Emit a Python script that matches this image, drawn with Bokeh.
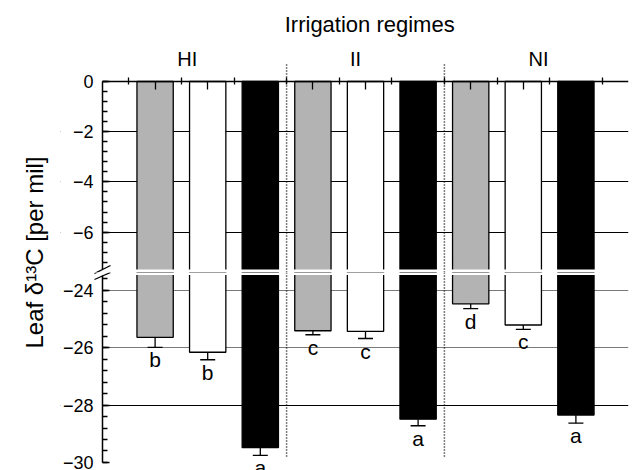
from bokeh.plotting import figure
from bokeh.layouts import row, column
from bokeh.models import (Range1d, FixedTicker, SingleIntervalTicker, Label, LabelSet,
                          Whisker, TeeHead, Arrow, ColumnDataSource, Grid, BoxAnnotation,
                          CustomJSTickFormatter, LinearAxis)
from bokeh.core.properties import value
from bokeh.embed import file_html
from bokeh.resources import INLINE

# ---------------- data ----------------
regimes = ["HI", "II", "NI"]
treatments = ["T1", "T2", "T3"]          # grey, white, black bars
hi_mean = [-25.64, -26.16, -29.48]
ii_mean = [-25.41, -25.43, -28.49]
ni_mean = [-24.47, -25.21, -28.35]
hi_se = [0.35, 0.26, 0.27]
ii_se = [0.14, 0.25, 0.23]
ni_se = [0.17, 0.15, 0.28]
hi_letters = ["b", "b", "a"]
ii_letters = ["c", "c", "a"]
ni_letters = ["d", "c", "a"]

# ---------------- layout / styling ----------------
FONT = "Liberation Sans"
COLORS = ["#b3b3b3", "#ffffff", "#000000"]
LEFT_W = 60               # width of the y-title strip
PLOT_W = 634 - LEFT_W
TOP_H = 272               # upper panel height (canvas rows 0..272)
BOT_H = 470 - TOP_H
PX_X = 52.6               # px per category unit
X_LO = -(102 - LEFT_W) / PX_X
# upper segment (0 at row 81, 25.1 px per unit)
TOP_RANGE = (-7.61, 3.227)
TOP_AX = (-7.49, 0)
# lower segment (28.65 px per unit)
BOT_RANGE = (-30.28, -23.38)
BOT_AX = (-30, -23.47)
REGIME_LABEL_X = [1.61, 4.81, 8.29]
TITLE_X = 5.08

means = [hi_mean, ii_mean, ni_mean]
ses = [hi_se, ii_se, ni_se]
letters = [hi_letters, ii_letters, ni_letters]

xs, ms, lows, lets, cols = [], [], [], [], []
for g in range(len(regimes)):
    for t in range(len(treatments)):
        xs.append(g * len(treatments) + t + 1)
        ms.append(means[g][t])
        lows.append(means[g][t] - ses[g][t])
        lets.append(letters[g][t])
        cols.append(COLORS[t])
src = ColumnDataSource(dict(x=xs, mean=ms, low=lows, letter=lets, color=cols))

n_pos = len(xs) + 1
dividers = [g * len(treatments) + 0.5 for g in range(1, len(regimes))]

minus_fmt = CustomJSTickFormatter(code="return (tick < 0 ? '\u2212' : '') + Math.abs(tick);")


def base_fig(h, yr):
    p = figure(width=PLOT_W, height=h, x_range=Range1d(X_LO, n_pos),
               y_range=Range1d(*yr), x_axis_location=None, y_axis_location="left",
               toolbar_location=None, output_backend="svg",
               min_border_top=0, min_border_bottom=0, min_border_left=0,
               min_border_right=6)
    p.outline_line_color = None
    p.xgrid.visible = False
    p.background_fill_color = "white"
    return p


def style_left_axis(ax, bounds):
    ax.fixed_location = 0
    ax.ticker = SingleIntervalTicker(interval=2, num_minor_ticks=5)
    ax.formatter = minus_fmt
    ax.bounds = bounds
    ax.axis_line_width = 1.5
    ax.axis_line_color = "black"
    ax.major_tick_in = 7
    ax.major_tick_out = 0
    ax.minor_tick_in = 5
    ax.minor_tick_out = 0
    ax.major_tick_line_width = 1.3
    ax.minor_tick_line_width = 1.3
    ax.major_label_text_font = FONT
    ax.major_label_text_font_size = "18px"
    ax.major_label_text_color = "black"
    ax.major_label_standoff = 9


def finish(p):
    # hide grid lines left of the value axis
    p.add_layout(BoxAnnotation(right=0, fill_color="white", fill_alpha=1,
                               line_color=None, level="underlay"))
    p.vbar(x="x", width=0.69, top=0, bottom="mean", source=src,
           fill_color="color", line_color="black", line_width=1.3)


def break_marks(p, y_at):
    ax_px = 102 - LEFT_W
    for ya, yb in [(273, 265), (279, 272)]:
        p.add_layout(Arrow(end=None, start_units="screen", end_units="screen",
                           x_start=ax_px - 8, y_start=y_at(ya),
                           x_end=ax_px + 8, y_end=y_at(yb),
                           line_width=1.3, line_color="black"))


# ---------------- upper segment ----------------
top = base_fig(TOP_H, TOP_RANGE)
top.ygrid.ticker = FixedTicker(ticks=[-2, -4, -6])
top.ygrid.grid_line_color = "black"
top.ygrid.grid_line_width = 1
finish(top)
style_left_axis(top.yaxis[0], TOP_AX)

xa = LinearAxis(fixed_location=0, bounds=(0, n_pos),
                ticker=FixedTicker(ticks=[i + 0.5 for i in range(n_pos)],
                                   minor_ticks=list(range(1, n_pos))),
                formatter=CustomJSTickFormatter(code="return '';"))
xa.major_tick_out = 4
xa.major_tick_in = 3
xa.minor_tick_in = 8
xa.minor_tick_out = 0
xa.axis_line_width = 1.5
xa.major_tick_line_width = 1.3
xa.minor_tick_line_width = 1.3
xa.major_label_text_color = None
xa.major_label_text_font_size = "1px"
xa.major_label_standoff = 0
top.add_layout(xa, "above")

# white break band (upper part)
top.add_layout(BoxAnnotation(top=TOP_AX[0], fill_color="white", fill_alpha=1,
                             line_color=None))
for d in dividers:
    top.add_layout(Arrow(end=None, x_start=d, y_start=0.68, x_end=d, y_end=TOP_RANGE[0],
                         line_dash="1 2", line_width=1.5, line_color="black"))

top.add_layout(Label(x=TITLE_X, y=TOP_H - 24, y_units="screen", text="Irrigation regimes",
                     text_align="center", text_baseline="alphabetic",
                     text_font=FONT, text_font_size="22px", text_color="black"))
for lx, name in zip(REGIME_LABEL_X, regimes):
    top.add_layout(Label(x=lx, y=TOP_H - 58, y_units="screen", text=name,
                         text_align="center", text_baseline="alphabetic",
                         text_font=FONT, text_font_size="20px", text_color="black"))
break_marks(top, lambda Y: TOP_H - Y)

# ---------------- lower segment ----------------
bot = base_fig(BOT_H, BOT_RANGE)
bot.ygrid.ticker = FixedTicker(ticks=[-24, -26])
bot.ygrid.grid_line_color = "#7a7a7a"
bot.ygrid.grid_line_width = 1
bot.add_layout(Grid(dimension=1, ticker=FixedTicker(ticks=[-28]),
                    grid_line_color="black", grid_line_width=1))
finish(bot)
style_left_axis(bot.yaxis[0], BOT_AX)

bot.add_layout(BoxAnnotation(bottom=BOT_AX[1], fill_color="white", fill_alpha=1,
                             line_color=None))
bot.add_layout(Whisker(base="x", upper="mean", lower="low", source=src,
                       upper_head=None, lower_head=TeeHead(size=15, line_width=1.3),
                       line_width=1.3, line_color="black"))
bot.add_layout(LabelSet(x="x", y="low", text="letter", source=src, y_offset=-20,
                        text_align="center", text_baseline="alphabetic",
                        text_font=value(FONT), text_font_size="21px",
                        text_color="black"))
for d in dividers:
    bot.add_layout(Arrow(end=None, x_start=d, y_start=BOT_RANGE[1], x_end=d, y_end=-29.86,
                         line_dash="1 2", line_width=1.5, line_color="black"))
break_marks(bot, lambda Y: 470 - Y)

# ---------------- y-axis title ----------------
lab = figure(width=LEFT_W, height=470, x_range=Range1d(0, 1), y_range=Range1d(0, 1),
             x_axis_location=None, y_axis_location=None, toolbar_location=None,
             output_backend="svg", min_border=0)
lab.outline_line_color = None
lab.grid.visible = False
lab.add_layout(Label(x=34, y=470 - 252, x_units="screen", y_units="screen",
                     text="Leaf \u03b4\u00b9\u00b3C [per mil]", angle=1.5707963,
                     text_align="center", text_baseline="middle",
                     text_font=FONT, text_font_size="24px", text_color="black"))

layout = row(lab, column(top, bot, spacing=0), spacing=0)
open("out.html", "w").write(file_html(layout, INLINE))
